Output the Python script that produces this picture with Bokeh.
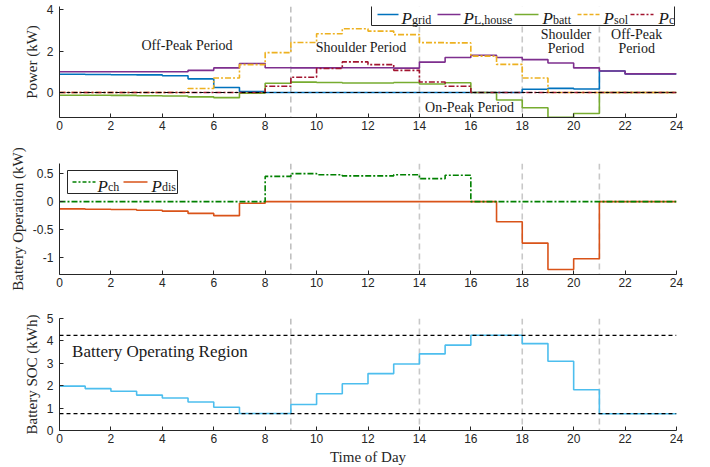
from bokeh.plotting import figure
from bokeh.models import Range1d, FixedTicker, Span, Label, BoxAnnotation, Arrow
from bokeh.layouts import column
from bokeh.embed import file_html
from bokeh.resources import INLINE

# ---------------- data (hourly values, hour h -> h+1) ----------------
hours = list(range(25))          # step edges 0..24
x_ticks = list(range(0, 25, 2))
period_bounds = [9, 14, 18, 21]

p_grid = [0.88, 0.87, 0.86, 0.85, 0.81, 0.66, 0.24, 0.05, 0, 0, 0, 0,
          0, 0, 0, 0, 0, 0, 0.16, 0.20, 0.17, 1.04, 0.90, 0.90]
p_house = [1.00, 1.00, 1.00, 1.00, 1.00, 1.07, 1.19, 1.40, 1.20, 1.19, 1.19, 1.20,
           1.20, 1.18, 1.47, 1.69, 1.80, 1.69, 1.59, 1.43, 1.19, 1.04, 0.90, 0.90]
p_batt = [-0.13, -0.135, -0.14, -0.155, -0.17, -0.21, -0.25, -0.03, 0.45, 0.50, 0.48, 0.46,
          0.46, 0.48, 0.41, 0.47, 0, -0.36, -0.74, -1.20, -1.02, 0, 0, 0]
p_sol = [0, 0, 0, 0, 0, 0.19, 0.70, 1.35, 1.93, 2.42, 2.84, 3.08,
         2.97, 2.80, 2.41, 2.40, 1.76, 1.36, 0.70, 0, 0, 0, 0, 0]
p_c = [0, 0, 0, 0, 0, 0, 0, 0, 0.30, 0.74, 1.16, 1.48,
       1.35, 1.07, 0.51, 0.30, 0, 0, 0, 0, 0, 0, 0, 0]

p_ch = [0, 0, 0, 0, 0, 0, 0, 0, 0.45, 0.50, 0.48, 0.46,
        0.46, 0.48, 0.41, 0.47, 0, 0, 0, 0, 0, 0, 0, 0]
p_dis = [-0.13, -0.135, -0.14, -0.155, -0.17, -0.21, -0.25, -0.03, 0, 0, 0, 0,
         0, 0, 0, 0, 0, -0.36, -0.74, -1.21, -1.02, 0, 0, 0]

soc = [1.98, 1.87, 1.75, 1.58, 1.45, 1.27, 1.04, 0.76, 0.76, 1.16, 1.64, 2.09,
       2.54, 2.97, 3.42, 3.81, 4.25, 4.25, 3.88, 3.09, 1.82, 0.75, 0.75, 0.75]
soc_min = 0.75
soc_max = 4.25

# ---------------- styles ----------------
C_GRID, C_HOUSE, C_BATT, C_SOL, C_C = "#0072BD", "#7E2F8E", "#77AC30", "#EDB120", "#A2142F"
C_CH, C_DIS, C_SOC = "#008000", "#D95319", "#4DBEEE"
AX = "#262626"
SERIF = "Liberation Serif"
SANS = "Liberation Sans"
DASHDOT = "6 2 2 2"


def stairs(v):
    return list(v) + [v[-1]]


def make_fig(height, top, bottom, yr, yticks, ylabel, overrides=None, xlabel=None):
    p = figure(width=710, height=height, x_range=Range1d(0, 24), y_range=Range1d(*yr),
               output_backend="svg", toolbar_location=None,
               min_border_left=59, min_border_right=34,
               min_border_top=top, min_border_bottom=bottom)
    p.outline_line_color = None
    p.grid.visible = False
    p.background_fill_color = "white"
    p.xaxis.ticker = FixedTicker(ticks=x_ticks)
    p.yaxis.ticker = FixedTicker(ticks=yticks)
    if overrides:
        p.yaxis.major_label_overrides = overrides
    for ax in (p.xaxis[0], p.yaxis[0]):
        ax.axis_line_color = AX
        ax.major_tick_line_color = AX
        ax.major_tick_in = 4
        ax.major_tick_out = 0
        ax.minor_tick_line_color = None
        ax.major_label_text_font = SANS
        ax.major_label_text_font_size = "12px"
        ax.major_label_text_color = AX
        ax.axis_label_text_font = SERIF
        ax.axis_label_text_font_size = "15px"
        ax.axis_label_text_font_style = "normal"
        ax.axis_label_text_color = AX
    p.xaxis.major_label_standoff = 3
    p.yaxis.major_label_standoff = 6
    p.yaxis.axis_label = ylabel
    p.yaxis.axis_label_standoff = 4
    if xlabel:
        p.xaxis.axis_label = xlabel
        p.xaxis.axis_label_standoff = 3
    for i, h in enumerate(period_bounds):
        if i == 0:
            s = Span(location=h, dimension="height", line_color="#9a9a9a",
                     line_width=1, line_dash="6 4", level="underlay")
        else:
            s = Span(location=h, dimension="height", line_color="#c8c8c8",
                     line_width=1.6, line_dash="6 4", level="underlay")
        p.add_layout(s)
    return p


def add_legend(p, box, cy, pbase, sbase, items):
    l, r, t, b = box
    p.add_layout(BoxAnnotation(left=l, right=r, top=t, bottom=b,
                               left_units="screen", right_units="screen",
                               top_units="screen", bottom_units="screen",
                               fill_color="white", fill_alpha=1.0,
                               line_color=AX, line_width=1, line_alpha=1.0))
    for x0, x1, color, dash, px, sub in items:
        p.add_layout(Arrow(end=None, x_start=x0, y_start=cy, x_end=x1, y_end=cy,
                           start_units="screen", end_units="screen",
                           line_color=color, line_width=1.5, line_dash=dash))
        p.add_layout(Label(x=px, y=pbase, x_units="screen", y_units="screen", text="P",
                           text_font=SERIF, text_font_style="italic", text_font_size="17px",
                           text_baseline="alphabetic", text_color="#1a1a1a"))
        p.add_layout(Label(x=px + 10.5, y=sbase, x_units="screen", y_units="screen", text=sub,
                           text_font=SERIF, text_font_size="12px",
                           text_baseline="alphabetic", text_color="#1a1a1a"))


def add_text(p, x, y, t, size="14px", align="center"):
    p.add_layout(Label(x=x, y=y, text=t, text_align=align, text_baseline="middle",
                       text_font=SERIF, text_font_size=size, text_color="#1a1a1a"))


# ---------------- top panel: power flows ----------------
p1 = make_fig(140, 6, 23, (-1.21, 4.16), [0, 2, 4], "Power (kW)")
p1.step(hours, stairs(p_grid), mode="after", line_color=C_GRID, line_width=1.6)
p1.step(hours, stairs(p_house), mode="after", line_color=C_HOUSE, line_width=1.6)
p1.step(hours, stairs(p_batt), mode="after", line_color=C_BATT, line_width=1.6)
p1.step(hours, stairs(p_sol), mode="after", line_color=C_SOL, line_width=1.6, line_dash=DASHDOT)
p1.step(hours, stairs(p_c), mode="after", line_color=C_C, line_width=1.6, line_dash=DASHDOT)
p1.add_layout(Span(location=0, dimension="width", line_color="black", line_width=1.2,
                   line_dash="4 3"))
add_text(p1, 4.96, 2.25, "Off-Peak Period")
add_text(p1, 11.73, 2.17, "Shoulder Period")
add_text(p1, 15.95, -0.74, "On-Peak Period")
add_text(p1, 19.7, 2.82, "Shoulder")
add_text(p1, 19.7, 2.12, "Period")
add_text(p1, 22.45, 2.82, "Off-Peak")
add_text(p1, 22.45, 2.12, "Period")
add_legend(p1, (312, 615, 114, 92), 103, 98.7, 97.8, [
    (318, 339, C_GRID, "solid", 342, "grid"),
    (378, 401, C_HOUSE, "solid", 404, "L,house"),
    (455, 479, C_BATT, "solid", 483, "batt"),
    (518, 541, C_SOL, "4 2", 544, "sol"),
    (571, 594, C_C, "4 2 2 2", 599, "c"),
])

# ---------------- middle panel: battery operation ----------------
p2 = make_fig(160, 23, 26, (-1.3, 0.68), [-1, -0.5, 0, 0.5], "Battery Operation (kW)",
              overrides={-1: "-1", -0.5: "-0.5", 0: "0", 0.5: "0.5"})
p2.step(hours, stairs(p_dis), mode="after", line_color=C_DIS, line_width=1.6)
p2.step(hours, stairs(p_ch), mode="after", line_color=C_CH, line_width=1.6, line_dash=DASHDOT)
add_legend(p2, (8, 118, 104, 81), 92.5, 88.5, 87.5, [
    (13, 36, C_CH, "4 2 2 2", 38, "ch"),
    (64, 88, C_DIS, "solid", 92, "dis"),
])

# ---------------- bottom panel: state of charge ----------------
p3 = make_fig(167, 18, 37, (0, 5), [0, 1, 2, 3, 4, 5], "Battery SOC (kWh)", xlabel="Time of Day")
p3.step(hours, stairs(soc), mode="after", line_color=C_SOC, line_width=1.6)
for lim in (soc_min, soc_max):
    p3.add_layout(Span(location=lim, dimension="width", line_color="black", line_width=1.3,
                       line_dash="4 3"))
add_text(p3, 0.49, 3.52, "Battery Operating Region", size="17px", align="left")

layout = column(p1, p2, p3, spacing=0)
open("out.html", "w").write(file_html(layout, INLINE))
